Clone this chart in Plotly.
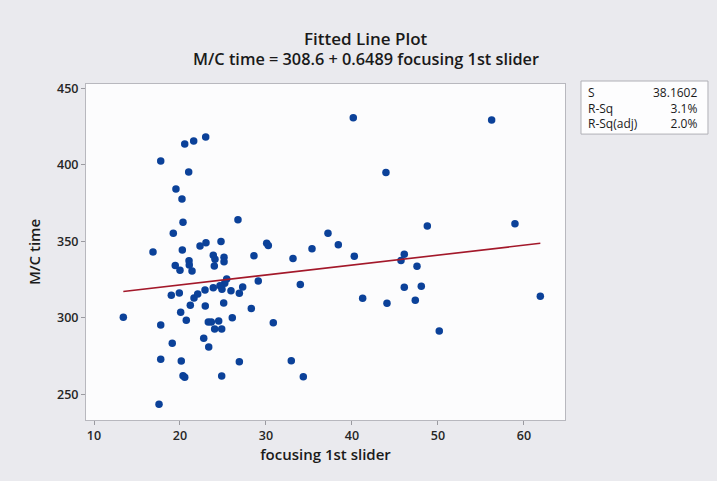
import plotly.graph_objects as go

# Data
focusing_1st_slider = [
    40.15, 56.24, 43.95, 48.76, 58.95, 37.21, 38.41, 35.35, 40.27, 33.14,
    46.08, 45.70, 47.56, 33.99, 46.08, 48.06, 41.24, 44.07, 47.36, 61.90,
    50.15, 30.85, 32.94, 34.34, 30.08, 30.27, 22.99, 21.59, 20.55, 17.76,
    21.01, 19.53, 20.23, 20.35, 26.74, 19.22, 16.86, 20.27, 22.33, 23.02,
    24.77, 23.87, 24.07, 25.12, 25.12, 28.60, 23.99, 19.45, 20.00, 21.05,
    21.08, 21.40, 29.10, 25.43, 25.20, 24.65, 23.87, 22.91, 24.88, 25.93,
    27.29, 26.90, 18.99, 19.92, 21.63, 22.06, 21.20, 22.94, 25.08, 28.29,
    20.08, 20.73, 17.76, 23.29, 23.64, 24.50, 26.08, 24.03, 24.85, 19.10,
    22.76, 23.34, 17.76, 20.15, 26.90, 20.35, 20.55, 24.85, 17.56, 13.41,
]
mc_time = [
    430.9, 429.4, 395.0, 360.1, 361.6, 355.4, 347.9, 345.3, 340.3, 338.8,
    341.6, 337.5, 333.8, 321.8, 320.1, 320.7, 312.9, 309.6, 311.6, 314.2,
    291.5, 296.9, 272.1, 261.6, 348.8, 347.3, 418.3, 415.7, 413.7, 402.6,
    395.4, 384.3, 377.8, 362.5, 364.2, 355.4, 343.1, 344.4, 347.1, 349.2,
    349.9, 341.0, 338.4, 339.7, 336.8, 340.7, 334.0, 334.2, 331.2, 337.3,
    334.6, 330.7, 324.2, 325.5, 322.7, 321.1, 319.8, 318.3, 318.8, 317.8,
    320.3, 316.1, 314.8, 316.3, 313.1, 315.7, 308.3, 307.8, 309.8, 306.1,
    303.7, 298.5, 295.4, 297.4, 297.4, 298.0, 300.2, 292.8, 292.8, 283.5,
    286.7, 281.0, 273.0, 271.9, 271.4, 262.2, 261.3, 262.1, 243.6, 300.5,
]

intercept = 308.6
slope = 0.6489

x_ticks = [10, 20, 30, 40, 50, 60]
y_ticks = [250, 300, 350, 400, 450]

stat_labels = ["S", "R-Sq", "R-Sq(adj)"]
stat_values = ["38.1602", "3.1%", "2.0%"]

FONT = "Open Sans"
TXT = "#1A1A1A"

x_min = min(focusing_1st_slider)
x_max = max(focusing_1st_slider)
line_x = [x_min, x_max]
line_y = [intercept + slope * v for v in line_x]

fig = go.Figure()
fig.add_trace(go.Scatter(
    x=focusing_1st_slider, y=mc_time, mode="markers",
    marker=dict(color="#0B4199", size=7.5, line=dict(width=0)),
    showlegend=False, hoverinfo="x+y",
))
fig.add_trace(go.Scatter(
    x=line_x, y=line_y, mode="lines",
    line=dict(color="#A3182A", width=1.6),
    showlegend=False,
))

axis_common = dict(
    showgrid=False, zeroline=False, showline=True, linecolor="#B8B8BE", linewidth=1,
    mirror=True, ticks="outside", ticklen=4, tickcolor="#9A9AA0",
    tickfont=dict(family=FONT, size=12.5, color="#262626", weight=600),
)

fig.update_xaxes(
    range=[9.07, 64.77], tickvals=x_ticks,
    title=dict(text="focusing 1st slider", font=dict(family=FONT, size=15, color=TXT, weight=600), standoff=6),
    **axis_common,
)
fig.update_yaxes(
    range=[233.3, 452.9], tickvals=y_ticks,
    title=dict(text="M/C time", font=dict(family=FONT, size=15, color=TXT, weight=600), standoff=12),
    **axis_common,
)

# stats box
fig.add_shape(type="rect", xref="paper", yref="paper",
              x0=1.0334, x1=1.2985, y0=0.851, y1=1.0089,
              line=dict(color="#B0B0B6", width=1), fillcolor="#FDFDFE", layer="below")
stats_font = dict(family=FONT, size=12, color=TXT, weight=500)
fig.add_annotation(text="<br>".join(stat_labels), xref="paper", yref="paper", x=1.044, y=0.9286,
                   xanchor="left", yanchor="middle", align="left", showarrow=False, font=stats_font)
fig.add_annotation(text="<br>".join(stat_values), xref="paper", yref="paper", x=1.28, y=0.9286,
                   xanchor="right", yanchor="middle", align="right", showarrow=False, font=stats_font)

# titles
fig.add_annotation(text="Fitted Line Plot", xref="paper", yref="paper",
                   x=0.5846, y=(420 - 38.8) / 336, xanchor="center", yanchor="middle",
                   showarrow=False, font=dict(family=FONT, size=17, color=TXT, weight=600))
fig.add_annotation(text="M/C time = 308.6 + 0.6489 focusing 1st slider", xref="paper", yref="paper",
                   x=0.5846, y=(420 - 58.7) / 336, xanchor="center", yanchor="middle",
                   showarrow=False, font=dict(family=FONT, size=16.3, color=TXT, weight=600))

fig.update_layout(
    width=717, height=481,
    margin=dict(l=86, r=152, t=84, b=61),
    paper_bgcolor="#EAEAEE", plot_bgcolor="#FCFCFD",
)

fig.write_html("out.html")
